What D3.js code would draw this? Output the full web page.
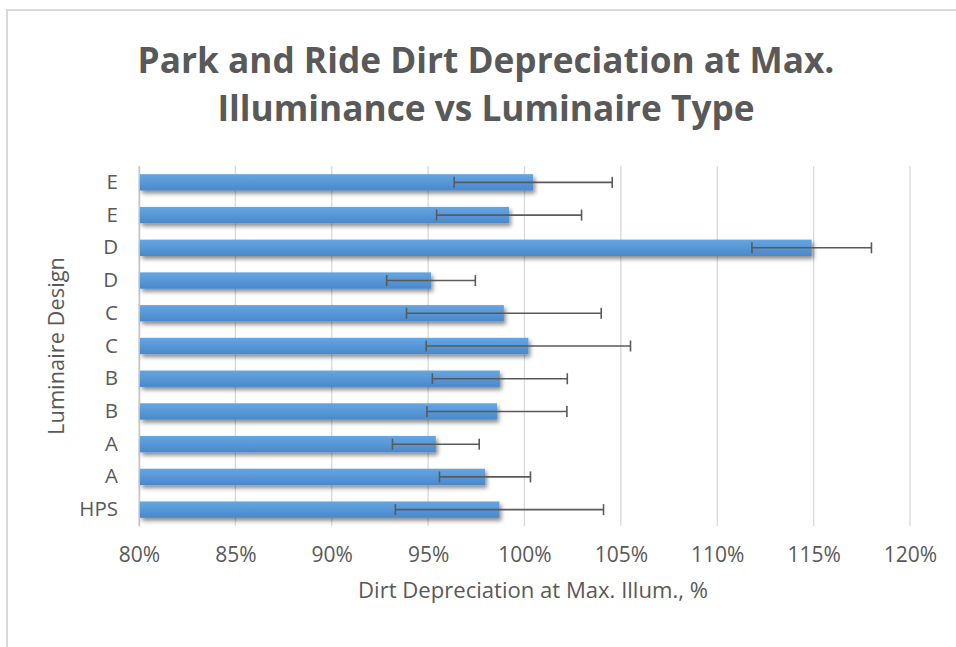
<!DOCTYPE html>
<html>
<head>
<meta charset="utf-8">
<script src="https://cdn.jsdelivr.net/npm/d3@7"></script>
<style>
  body { margin: 0; background: #fff; }
  text { font-family: "Open Sans", sans-serif; fill: #595959; }
</style>
</head>
<body>
<div id="chart"></div>
<script>
// bottom to top, as drawn
const categories = ["HPS", "A", "A", "B", "B", "C", "C", "D", "D", "E", "E"];
const values = [98.7, 97.95, 95.4, 98.57, 98.72, 100.2, 98.93, 95.15, 114.9, 99.2, 100.45];
const errors = [5.4, 2.36, 2.25, 3.63, 3.5, 5.3, 5.05, 2.3, 3.1, 3.76, 4.1];
const xTicks = [80, 85, 90, 95, 100, 105, 110, 115, 120];

const titleLines = ["Park and Ride Dirt Depreciation at Max.", "Illuminance vs Luminaire Type"];
const xTitle = "Dirt Depreciation at Max. Illum., %";
const yTitle = "Luminaire Design";

const width = 956, height = 647;
const plot = { left: 139, right: 910, top: 166, bottom: 526 };

const svg = d3.select("#chart").append("svg")
  .attr("width", width)
  .attr("height", height);

const defs = svg.append("defs");
const grad = defs.append("linearGradient")
  .attr("id", "barGrad")
  .attr("x1", 0).attr("y1", 0).attr("x2", 0).attr("y2", 1);
grad.append("stop").attr("offset", "0%").attr("stop-color", "#65a6e1");
grad.append("stop").attr("offset", "100%").attr("stop-color", "#4a88cb");

const shadow = defs.append("filter")
  .attr("id", "shadow")
  .attr("x", "-5%").attr("y", "-50%")
  .attr("width", "110%").attr("height", "220%");
shadow.append("feDropShadow")
  .attr("dx", 2).attr("dy", 3)
  .attr("stdDeviation", 2)
  .attr("flood-color", "#000")
  .attr("flood-opacity", 0.45);

// outer frame (right and bottom edges fall off the picture)
svg.append("rect")
  .attr("x", 7).attr("y", 10)
  .attr("width", 980).attr("height", 680)
  .attr("fill", "none")
  .attr("stroke", "#d9d9d9")
  .attr("stroke-width", 2);

const x = d3.scaleLinear()
  .domain([80, 120])
  .range([plot.left, plot.right]);

const y = d3.scaleBand()
  .domain(categories.map((c, i) => i))
  .range([plot.bottom, plot.top])
  .padding(0.5)
  .paddingOuter(0.25);

// gridlines
svg.append("g")
  .selectAll("line")
  .data(xTicks)
  .join("line")
  .attr("x1", d => x(d)).attr("x2", d => x(d))
  .attr("y1", plot.top).attr("y2", plot.bottom)
  .attr("stroke", "#d9d9d9")
  .attr("stroke-width", 1.3);

// x tick labels
const xAxis = svg.append("g")
  .attr("transform", `translate(0, ${plot.bottom})`)
  .call(d3.axisBottom(x).tickValues(xTicks).tickFormat(d => d + "%").tickSize(0).tickPadding(21));
xAxis.select(".domain").remove();
xAxis.selectAll("text")
  .attr("font-size", 21)
  .attr("fill", "#595959")
  .style("font-family", "'Open Sans', sans-serif");

// y category labels
const yAxis = svg.append("g")
  .attr("transform", `translate(${plot.left}, 0)`)
  .call(d3.axisLeft(y).tickFormat(i => categories[i]).tickSize(0).tickPadding(21));
yAxis.select(".domain")
  .attr("stroke", "#c8c8c8")
  .attr("stroke-width", 1.5);
yAxis.selectAll("text")
  .attr("font-size", 20.5)
  .attr("fill", "#595959")
  .style("font-family", "'Open Sans', sans-serif");

// bars
svg.append("g")
  .selectAll("rect")
  .data(values)
  .join("rect")
  .attr("x", x(80) + 1)
  .attr("y", (d, i) => y(i))
  .attr("width", d => x(d) - x(80) - 1)
  .attr("height", y.bandwidth())
  .attr("fill", "url(#barGrad)")
  .attr("filter", "url(#shadow)");

// error bars
const err = svg.append("g")
  .attr("stroke", "#5a5a5a")
  .attr("stroke-width", 1.6);
values.forEach((v, i) => {
  const cy = y(i) + y.bandwidth() / 2;
  const lo = x(v - errors[i]), hi = x(v + errors[i]);
  err.append("line").attr("x1", lo).attr("x2", hi).attr("y1", cy).attr("y2", cy);
  err.append("line").attr("x1", lo).attr("x2", lo).attr("y1", cy - 5.5).attr("y2", cy + 5.5);
  err.append("line").attr("x1", hi).attr("x2", hi).attr("y1", cy - 5.5).attr("y2", cy + 5.5);
});

// fit a text element's width to a target by adjusting font size
function fitWidth(sel, target) {
  const fs = +sel.attr("font-size");
  const w = sel.node().getComputedTextLength();
  sel.attr("font-size", fs * target / w);
}

// title
const title = svg.append("g");
titleLines.forEach((t, i) => {
  const tx = title.append("text")
    .attr("x", 486)
    .attr("y", 73 + i * 48)
    .attr("text-anchor", "middle")
    .attr("font-weight", "bold")
    .attr("font-size", 32)
    .text(t);
  if (i === 0) fitWidth(tx, 697);
});
const fsTitle = title.select("text").attr("font-size");
title.selectAll("text").attr("font-size", fsTitle);

// axis titles
const xt = svg.append("text")
  .attr("x", 533)
  .attr("y", 598)
  .attr("text-anchor", "middle")
  .attr("font-size", 19)
  .text(xTitle);
fitWidth(xt, 350);

const yt = svg.append("text")
  .attr("transform", "translate(64, 346) rotate(-90)")
  .attr("text-anchor", "middle")
  .attr("font-size", 20)
  .text(yTitle);
fitWidth(yt, 178);
</script>
</body>
</html>
